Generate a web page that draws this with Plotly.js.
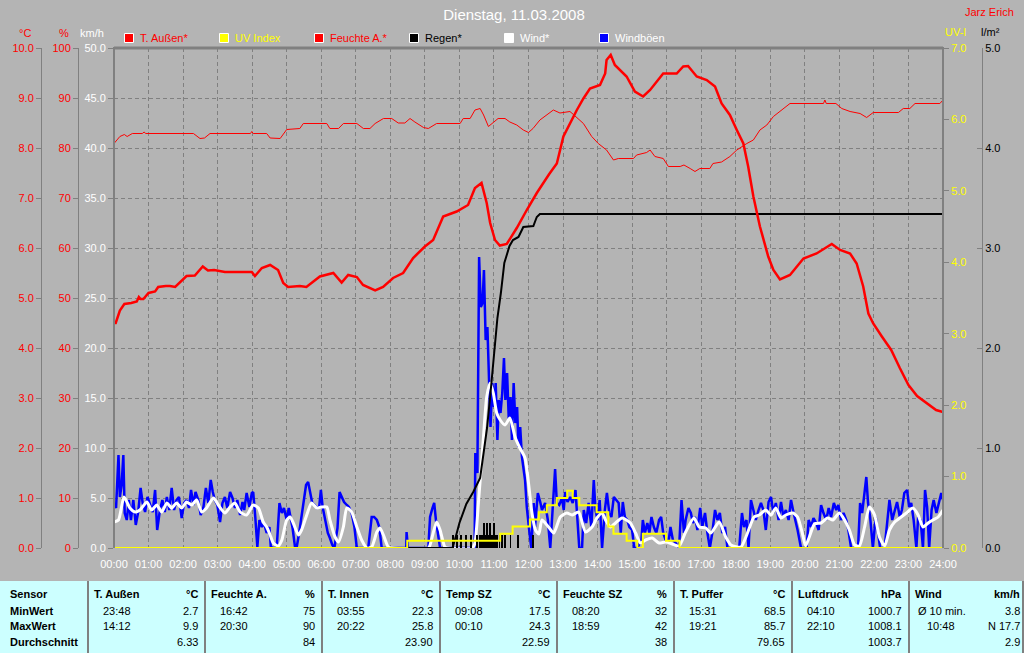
<!DOCTYPE html>
<html><head><meta charset="utf-8">
<script src="https://cdn.plot.ly/plotly-3.0.1.min.js"></script>
<style>html,body{margin:0;padding:0;background:#b4b4b4;}#chart{width:1024px;height:653px;}</style>
</head><body><div id="chart"></div>
<script>
// ---------- DATA ----------
const chartTitle = 'Dienstag, 11.03.2008';
const author = 'Jarz Erich';
const hours = [0,1,2,3,4,5,6,7,8,9,10,11,12,13,14,15,16,17,18,19,20,21,22,23,24];
const hourLabels = ['00:00','01:00','02:00','03:00','04:00','05:00','06:00','07:00','08:00','09:00','10:00','11:00','12:00','13:00','14:00','15:00','16:00','17:00','18:00','19:00','20:00','21:00','22:00','23:00','24:00'];
const legendNames = ['T. Außen*','UV Index','Feuchte A.*','Regen*','Wind*','Windböen'];

// Temperature outside (°C)
const tempT = [0,0.05,0.17,0.3,0.5,0.66,0.72,0.77,0.85,1.0,1.19,1.28,1.5,1.62,1.77,1.96,2.1,2.34,2.57,2.72,2.9,3.21,3.99,4.08,4.28,4.52,4.75,4.9,5.04,5.38,5.57,5.96,6.35,6.59,6.78,7.03,7.21,7.56,7.79,8.08,8.37,8.66,9.0,9.24,9.53,9.92,10.25,10.45,10.64,10.79,10.89,11.03,11.17,11.37,11.66,11.95,12.24,12.6,12.82,13.01,13.2,13.4,13.59,13.78,14.07,14.22,14.26,14.38,14.5,14.65,14.84,15.08,15.32,15.52,15.71,15.9,16.29,16.48,16.62,16.87,17.16,17.4,17.59,17.83,18.03,18.22,18.36,18.51,18.7,18.94,19.09,19.28,19.57,19.96,20.34,20.78,21.02,21.31,21.5,21.69,21.84,21.98,22.23,22.5,22.75,23.0,23.25,23.5,23.8,24];
const tempV = [4.5,4.5,4.75,4.88,4.9,4.93,5.02,4.98,4.98,5.1,5.13,5.22,5.24,5.24,5.22,5.35,5.44,5.45,5.63,5.55,5.56,5.52,5.52,5.44,5.6,5.66,5.56,5.3,5.22,5.24,5.22,5.43,5.5,5.31,5.46,5.42,5.26,5.15,5.22,5.4,5.5,5.8,6.03,6.16,6.63,6.73,6.86,7.2,7.3,6.9,6.5,6.16,6.05,6.08,6.4,6.76,7.1,7.48,7.69,8.23,8.49,8.76,8.99,9.19,9.26,9.49,9.76,9.86,9.66,9.56,9.43,9.13,9.03,9.16,9.33,9.49,9.49,9.63,9.64,9.43,9.36,9.23,8.89,8.66,8.36,8.09,7.63,7.03,6.43,5.83,5.56,5.37,5.46,5.79,5.89,6.08,5.96,5.89,5.69,5.23,4.69,4.49,4.23,3.96,3.6,3.26,3.04,2.92,2.76,2.72];

// Humidity outside (%)
const humT = [0,0.17,0.3,0.38,0.53,0.82,0.87,0.92,2.3,2.49,2.62,2.78,3.95,3.99,4.03,4.42,4.52,4.81,5.0,5.38,5.48,6.16,6.25,6.5,6.64,7.03,7.22,7.41,7.56,7.8,8.04,8.23,8.42,8.57,8.71,8.96,9.1,9.34,10.02,10.11,10.31,10.45,10.6,10.7,10.84,10.99,11.12,11.32,11.46,11.66,11.85,12.0,12.13,12.33,12.6,12.72,12.91,13.2,13.3,13.59,13.83,14.02,14.26,14.46,14.6,15.04,15.13,15.42,15.52,15.66,15.9,16.05,16.39,16.5,16.68,16.82,16.96,17.25,17.34,17.59,17.83,18.03,18.32,18.51,18.7,18.9,19.09,19.28,19.57,20.54,20.58,20.62,20.9,21.07,21.31,21.6,21.79,21.98,22.71,22.85,23.04,23.19,23.91,24];
const humV = [80.9,82.3,82.7,82.3,82.9,82.9,83.2,82.9,82.9,81.9,82.0,82.9,82.9,83.3,82.9,82.9,82.0,81.9,83.7,83.9,84.9,84.9,83.9,83.9,84.9,84.9,83.9,83.9,84.9,85.9,85.9,85.0,85.0,85.9,85.2,84.1,83.9,84.9,84.9,85.9,85.9,87.6,87.9,86.6,84.3,85.2,85.9,85.9,85.2,84.6,83.6,83.1,83.9,85.6,87.1,87.6,87.0,87.3,86.7,84.9,82.3,80.9,79.6,77.6,77.9,77.9,78.6,79.1,79.6,78.3,77.9,76.3,76.3,76.6,75.9,75.3,75.9,75.9,76.9,77.2,78.3,79.6,80.9,81.6,83.6,84.6,86.3,87.3,88.9,88.9,89.6,88.9,88.9,87.9,87.3,86.9,86.1,87.1,87.1,87.9,87.9,88.9,88.9,89.6];

// Wind (km/h)
const windT = [0,0.13,0.29,0.46,0.61,0.75,0.95,1.09,1.24,1.38,1.53,1.67,1.81,1.96,2.10,2.25,2.39,2.54,2.68,2.88,3.02,3.21,3.36,3.50,3.65,3.84,4.03,4.18,4.32,4.42,4.52,4.61,4.76,4.86,5.0,5.1,5.19,5.34,5.43,5.58,5.72,5.87,6.01,6.16,6.25,6.4,6.5,6.64,6.74,6.88,7.03,7.17,7.32,7.46,7.61,7.7,7.8,7.94,8.04,9.1,9.15,9.34,9.44,9.58,9.66,10.38,10.45,10.55,10.69,10.79,10.89,10.98,11.08,11.18,11.32,11.46,11.61,11.75,11.9,12.0,12.1,12.2,12.3,12.39,12.58,12.73,12.92,13.11,13.26,13.45,13.65,13.84,13.98,14.13,14.23,14.37,14.52,14.71,14.95,15.1,15.24,15.39,15.58,15.78,15.97,16.16,16.36,16.55,16.79,16.94,17.13,17.28,17.52,17.71,17.86,18.15,18.34,18.53,18.68,18.87,19.02,19.16,19.31,19.45,19.65,19.79,19.94,20.02,20.13,20.28,20.47,20.66,20.81,21.0,21.15,21.29,21.44,21.58,21.73,21.87,22.02,22.16,22.31,22.45,22.6,22.75,22.94,23.13,23.28,23.42,23.57,23.71,23.86,24];
const windV = [2.6,2.8,5.1,4.0,3.6,3.8,4.6,3.8,4.3,3.6,4.5,4.0,4.5,4.0,4.6,4.3,4.8,3.6,4.0,5.0,4.3,3.5,4.1,4.5,3.6,3.3,4.3,4.0,2.6,2.1,1.3,0.5,0.2,0.8,2.8,3.1,2.5,1.3,1.8,3.3,4.5,4.0,4.1,4.1,2.8,1.1,0.6,2.1,4.0,3.6,2.1,0.8,0,0.1,1.6,2.0,1.3,0.1,0,0,0.3,2.6,1.8,0.1,0,0,0.5,4.5,10.8,15.1,16.5,15.5,13.5,12.8,12.3,13.0,11.1,10.0,9.0,6.5,3.5,1.8,1.4,2.8,2.1,1.5,3.1,3.5,3.3,3.6,1.6,2.1,3.0,3.5,2.8,2.1,2.5,3.0,2.5,1.5,0.5,0.8,1.0,0.5,0.6,0.4,0.2,1.6,3.0,2.1,2.0,1.5,2.6,1.1,0.3,0.1,1.5,3.1,3.3,3.8,3.3,4.0,3.0,3.3,3.5,3.1,1.3,0.2,1.1,2.4,2.5,3.0,2.8,3.5,2.8,1.8,0.3,0.2,2.1,4.1,3.3,1.1,0.2,1.8,2.6,3.0,3.5,4.0,3.3,2.1,2.5,2.8,3.1,3.8];

// Wind gusts (km/h)
const gustT = [0,0.06,0.13,0.17,0.22,0.27,0.31,0.37,0.43,0.49,0.56,0.63,0.70,0.77,0.83,0.90,0.97,1.04,1.12,1.19,1.25,1.33,1.40,1.47,1.53,1.60,1.67,1.74,1.81,1.88,1.96,2.03,2.10,2.17,2.23,2.30,2.36,2.44,2.51,2.59,2.66,2.73,2.80,2.86,2.92,2.99,3.07,3.14,3.21,3.28,3.36,3.43,3.50,3.57,3.65,3.72,3.77,3.84,3.92,3.99,4.03,4.09,4.15,4.21,4.28,4.34,4.42,4.50,4.54,4.61,4.71,4.79,4.86,4.92,5.00,5.06,5.12,5.17,5.24,5.29,5.36,5.43,5.50,5.56,5.62,5.68,5.74,5.81,5.87,5.94,5.99,6.04,6.11,6.19,6.25,6.32,6.38,6.47,6.53,6.59,6.66,6.74,6.80,6.88,6.96,7.03,7.36,7.46,7.53,7.61,7.68,7.75,8.46,8.47,8.51,9.10,9.15,9.22,9.27,9.32,9.38,9.44,
 10.44,10.46,10.52,10.57,10.62,10.67,10.71,10.76,10.81,10.86,10.90,10.95,11.00,11.05,11.10,11.14,11.19,11.24,11.29,11.33,11.38,11.43,11.48,11.52,11.57,11.62,11.67,11.71,11.76,11.81,11.86,11.90,11.95,12.00,
 12.02,12.08,12.15,12.19,12.27,12.34,12.39,12.48,12.56,12.63,12.70,12.77,12.82,12.89,12.97,13.02,13.06,13.13,13.21,13.28,13.36,13.41,13.47,13.55,13.60,13.67,13.74,13.82,13.89,13.94,14.00,14.06,14.13,14.21,14.27,14.34,14.40,14.47,14.54,14.61,14.67,14.73,14.79,14.86,14.92,15.00,15.06,15.15,15.27,15.31,15.37,15.44,15.50,15.56,15.63,15.70,15.78,15.84,15.90,15.97,16.05,16.11,16.18,16.26,16.36,16.43,16.50,16.55,16.63,16.70,16.76,16.82,16.89,16.97,17.03,17.11,17.18,17.25,17.32,17.40,17.47,17.54,17.61,17.69,17.76,18.10,18.18,18.24,18.31,18.37,18.44,18.51,18.58,18.66,18.73,18.80,18.87,18.95,19.02,19.09,19.16,19.24,19.31,19.38,19.45,19.53,19.60,19.67,19.73,19.79,19.89,20.05,20.11,20.18,20.25,20.33,20.40,20.47,20.54,20.62,20.69,20.76,20.84,20.91,20.97,21.05,21.12,21.20,21.26,21.34,21.54,21.60,21.66,21.73,21.78,21.83,21.89,21.97,22.05,22.12,22.18,22.31,22.38,22.45,22.53,22.60,22.67,22.75,22.81,22.88,22.96,23.02,23.08,23.15,23.23,23.28,23.35,23.42,23.48,23.54,23.60,23.67,23.73,23.81,23.89,23.95,24];
const gustV = [4.5,4.0,9.3,5.1,6.3,9.3,3.5,2.8,4.8,2.8,4.8,2.3,3.6,6.0,4.5,3.6,5.1,4.3,3.6,5.8,1.8,3.8,4.8,3.6,5.1,3.8,6.0,3.8,4.8,5.1,3.0,4.5,4.8,4.0,5.8,4.3,5.6,4.8,3.3,4.1,6.0,4.5,6.8,5.6,4.8,4.3,2.6,4.5,5.1,4.0,5.6,5.0,4.0,4.8,3.3,4.6,3.8,5.5,4.1,5.5,5.6,3.1,0.1,2.8,2.1,2.5,1.5,2.1,0.1,0,0,4.5,3.5,4.0,2.8,4.0,2.8,2.0,0.1,0.1,1.5,3.1,4.8,6.3,6.6,5.5,4.5,4.3,4.0,4.1,5.8,4.1,2.8,1.5,1.0,0.3,0,2.0,5.6,5.1,4.6,4.3,4.1,3.5,2.1,0,0,3.1,3.1,2.8,2.1,0,0,1.6,0,0,3.1,4.0,4.5,2.8,1.5,0,
 0,9.5,7.5,29.1,24.1,24.5,27.8,20.8,22.1,16.8,12.1,16.5,14.1,16.5,10.8,14.8,13.5,15.5,19.0,14.8,17.5,12.8,15.1,10.8,16.5,12.5,14.1,10.1,12.1,9.1,7.8,6.8,4.1,2.1,
 1.8,0,4.5,2.1,5.5,4.6,3.8,4.5,2.8,0,3.5,7.9,4.5,4.3,5.0,3.8,5.6,4.6,5.1,4.5,5.8,2.8,0,0,3.8,2.5,4.5,2.1,6.8,3.8,2.8,4.8,0,3.8,5.5,3.5,3.1,5.1,4.8,4.5,1.5,4.6,3.1,2.8,2.1,1.8,0,0,0.8,2.8,1.5,2.5,1.5,3.1,2.1,1.5,2.8,3.1,1.5,0.8,0.5,2.1,0.8,0.5,0,4.8,1.5,2.8,4.0,3.5,2.5,3.1,1.8,4.0,2.1,3.5,1.5,0,1.5,3.8,2.8,3.5,1.5,2.1,0,0,3.5,2.1,2.8,0,4.8,3.8,2.8,3.8,4.5,3.8,1.8,4.6,5.1,3.5,4.5,2.8,4.6,3.1,3.8,2.8,4.8,3.6,2.8,1.8,0,0,2.8,2.1,3.0,2.5,1.8,4.3,3.5,2.8,4.0,3.1,4.5,3.8,4.3,2.8,3.5,2.8,1.8,0,0,4.5,3.5,5.8,7.1,4.5,3.1,0,3.1,1.5,0,0,2.8,4.8,2.8,3.8,4.6,3.1,3.8,5.5,5.8,4.1,4.5,2.8,0,3.1,2.8,0,5.8,4.1,0,3.8,4.8,3.5,4.5,5.5,4.8];

// UV index (step)
const uvT = [0,8.49,11.18,11.54,12.04,12.3,12.53,12.82,13.12,13.28,13.47,13.97,14.31,14.46,14.84,15.15,15.31,15.98,16.37,24];
const uvV = [0,0.1,0.2,0.3,0.4,0.5,0.6,0.7,0.8,0.7,0.6,0.5,0.3,0.2,0.1,0.0,0.2,0.1,0.0,0.0];

// Rain cumulative (l/m²)
const rainT = [0,9.8,9.9,10.0,10.2,10.4,10.6,10.7,10.8,10.9,11.0,11.1,11.2,11.3,11.45,11.55,11.71,11.85,12.14,12.24,12.33,24];
const rainV = [0,0,0.12,0.25,0.44,0.56,0.7,0.95,1.2,1.55,1.95,2.3,2.55,2.85,3.02,3.08,3.11,3.21,3.22,3.31,3.34,3.34];
// Rain per interval (l/m²)
const rainBarT = [9.81,9.94,10.05,10.18,10.34,10.52,10.6,10.65,10.71,10.76,10.8,10.84,10.88,10.92,10.96,11.0,11.04,11.09,11.16,11.23,11.32,11.48,11.7,12.14];
const rainBarV = [0.13,0.13,0.13,0.13,0.13,0.13,0.13,0.13,0.25,0.13,0.25,0.13,0.25,0.13,0.13,0.25,0.13,0.13,0.13,0.13,0.13,0.13,0.13,0.13];

// Table
const rowLabels = ['Sensor','MinWert','MaxWert','Durchschnitt'];
const sensors = ['T. Außen','Feuchte A.','T. Innen','Temp SZ','Feuchte SZ','T. Puffer','Luftdruck','Wind'];
const units = ['°C','%','°C','°C','%','°C','hPa','km/h'];
const minTimes = ['23:48','16:42','03:55','09:08','08:20','15:31','04:10','Ø 10 min.'];
const minVals = ['2.7','75','22.3','17.5','32','68.5','1000.7','3.8'];
const maxTimes = ['14:12','20:30','20:22','00:10','18:59','19:21','22:10','10:48'];
const maxVals = ['9.9','90','25.8','24.3','42','85.7','1008.1','N 17.7'];
const avgVals = ['6.33','84','23.90','22.59','38','79.65','1003.7','2.9'];

// ---------- LAYOUT ----------
const W = 1024, H = 653, TOP = 48, BOT = 548;
const PX = p => p / W;
const PY = p => (BOT - p) / (BOT - TOP);
const FONT = 'Liberation Sans, Arial, sans-serif';
const GRID = '#808080';
const RED = '#ff0000', YEL = '#ffff00', BLUE = '#0000ff';

const traces = [
  {x: gustT, y: gustV, type:'scatter', mode:'lines', xaxis:'x', yaxis:'y', line:{color:BLUE, width:2.5}, name:'Windböen'},
  {x: windT, y: windV, type:'scatter', mode:'lines', xaxis:'x', yaxis:'y', line:{color:'#ffffff', width:3, shape:'spline', smoothing:0.6}, name:'Wind*'},
  {x: rainBarT, y: rainBarV, type:'bar', xaxis:'x', yaxis:'y2', marker:{color:'#000000', line:{width:0}}, width:0.055, name:'Regen bars'},
  {x: rainT, y: rainV, type:'scatter', mode:'lines', xaxis:'x', yaxis:'y2', line:{color:'#000000', width:2}, name:'Regen*'},
  {x: uvT, y: uvV, type:'scatter', mode:'lines', xaxis:'x', yaxis:'y3', line:{color:YEL, width:2, shape:'hv'}, name:'UV Index'},
  {x: humT, y: humV, type:'scatter', mode:'lines', xaxis:'x', yaxis:'y4', line:{color:RED, width:1}, name:'Feuchte A.*'},
  {x: tempT, y: tempV, type:'scatter', mode:'lines', xaxis:'x', yaxis:'y5', line:{color:RED, width:2.5}, name:'T. Außen*'}
];

const axBase = {zeroline:false, showgrid:false, fixedrange:true, tickfont:{family:FONT, size:11}};

const layout = {
  width: W, height: H,
  paper_bgcolor:'#b4b4b4', plot_bgcolor:'#b4b4b4',
  margin:{l:0, r:0, t:TOP, b:H-BOT, pad:0},
  showlegend:false,
  font:{family:FONT, size:11, color:'#000'},
  bargap:0,
  title:{text:chartTitle, x:514/W, xanchor:'center', y:1-15/H, yanchor:'middle', font:{family:FONT, size:15, color:'#ffffff'}},
  xaxis: Object.assign({}, axBase, {
    domain:[114/W, 943/W], range:[0,24], tickmode:'array', tickvals:hours, ticktext:hourLabels,
    tickfont:{family:FONT, size:11, color:'#ffffff'}, showgrid:true, gridcolor:GRID, gridwidth:1, griddash:'4px,3px',
    ticks:'outside', ticklen:6, tickcolor:'rgba(0,0,0,0)', showline:false
  }),
  yaxis: Object.assign({}, axBase, {
    range:[0,50], tick0:0, dtick:5, tickformat:'.1f', tickfont:{family:FONT, size:11, color:'#ffffff'},
    showgrid:true, gridcolor:GRID, gridwidth:1, griddash:'4px,3px', ticks:'outside', ticklen:5, tickcolor:GRID, showline:false
  }),
  yaxis2: Object.assign({}, axBase, {
    overlaying:'y', anchor:'free', position:982/W, side:'right', range:[0,5], tick0:0, dtick:1, tickformat:'.1f',
    tickfont:{family:FONT, size:11, color:'#000000'}, ticks:'inside', ticklen:5, tickcolor:GRID, showline:true, linecolor:GRID, linewidth:1
  }),
  yaxis3: Object.assign({}, axBase, {
    overlaying:'y', anchor:'x', side:'right', range:[0,7], tick0:0, dtick:1, tickformat:'.1f',
    tickfont:{family:FONT, size:11, color:YEL}, ticks:'outside', ticklen:5, tickcolor:GRID, showline:false
  }),
  yaxis4: Object.assign({}, axBase, {
    overlaying:'y', anchor:'free', position:78/W, side:'left', range:[0,100], tick0:0, dtick:10, tickformat:'d',
    tickfont:{family:FONT, size:11, color:RED}, ticks:'outside', ticklen:5, tickcolor:GRID, showline:true, linecolor:GRID, linewidth:1
  }),
  yaxis5: Object.assign({}, axBase, {
    overlaying:'y', anchor:'free', position:41/W, side:'left', range:[0,10], tick0:0, dtick:1, tickformat:'.1f',
    tickfont:{family:FONT, size:11, color:RED}, ticks:'outside', ticklen:5, tickcolor:GRID, showline:true, linecolor:GRID, linewidth:1
  }),
  shapes: [], annotations: []
};

// plot frame
const frameLine = (x0,y0,x1,y1,w) => ({type:'line', xref:'paper', yref:'paper', x0:PX(x0), y0:PY(y0), x1:PX(x1), y1:PY(y1), line:{color:GRID, width:w}});
layout.shapes.push(frameLine(114,48,943,48,3));
layout.shapes.push(frameLine(114,47,114,548,2));
layout.shapes.push(frameLine(943,47,943,548,2));

// legend
const legendFill = [RED, YEL, RED, '#000000', '#ffffff', BLUE];
const legendText = [RED, YEL, RED, '#000000', '#ffffff', '#ffffff'];
legendNames.forEach((n,i) => {
  const x0 = 124.5 + 95*i;
  layout.shapes.push({type:'rect', xref:'paper', yref:'paper', x0:PX(x0), x1:PX(x0+9), y0:PY(42.5), y1:PY(33.5), fillcolor:legendFill[i], line:{color:'#ffffff', width:1}});
  layout.annotations.push({xref:'paper', yref:'paper', x:PX(x0+13.5), y:PY(38), xanchor:'left', yanchor:'middle', showarrow:false, text:n, font:{family:FONT, size:11, color:legendText[i]}});
});

// axis unit labels
const ann = (x, y, text, color, xanchor, size, bold) => layout.annotations.push({xref:'paper', yref:'paper', x:PX(x), y:PY(y), xanchor:xanchor||'center', yanchor:'middle', showarrow:false, text: bold ? '<b>'+text+'</b>' : text, font:{family:FONT, size:size||11, color:color}});
ann(25, 33, '°C', RED);
ann(63.5, 33, '%', RED);
ann(92, 33, 'km/h', '#ffffff');
ann(955, 32, 'UV-I', YEL);
ann(990, 32, 'l/m²', '#000000');
ann(1016, 12, author, RED, 'right', 11);

// table
layout.shapes.push({type:'rect', xref:'paper', yref:'paper', x0:0, x1:1, y0:PY(581), y1:PY(654), fillcolor:'#ccffff', line:{width:0}, layer:'below'});
const colL = [88,205,322,440,557,674,792,909];
const colR = [205,322,440,557,674,792,909,1027];
colL.forEach(x => layout.shapes.push({type:'line', xref:'paper', yref:'paper', x0:PX(x), x1:PX(x), y0:PY(581), y1:PY(654), line:{color:GRID, width:2}}));
layout.shapes.push({type:'line', xref:'paper', yref:'paper', x0:PX(1023), x1:PX(1023), y0:PY(581), y1:PY(654), line:{color:GRID, width:2}});
const rowY = [594, 611, 626, 642];
rowLabels.forEach((r,j) => ann(8, rowY[j], r, '#000', 'left', 11, true));
sensors.forEach((s,i) => {
  ann(colL[i]+4, rowY[0], s, '#000', 'left', 11, true);
  ann(colR[i]-5, rowY[0], units[i], '#000', 'right', 11, true);
  const tx = (i === 7) ? colL[i]+7 : colL[i]+13;
  ann(tx, rowY[1], minTimes[i], '#000', 'left', 11);
  ann(colR[i]-5, rowY[1], minVals[i], '#000', 'right', 11);
  ann((i === 7) ? colL[i]+16 : colL[i]+13, rowY[2], maxTimes[i], '#000', 'left', 11);
  ann(colR[i]-5, rowY[2], maxVals[i], '#000', 'right', 11);
  ann(colR[i]-5, rowY[3], avgVals[i], '#000', 'right', 11);
});

Plotly.newPlot('chart', traces, layout, {staticPlot:true, displayModeBar:false});
</script></body></html>
